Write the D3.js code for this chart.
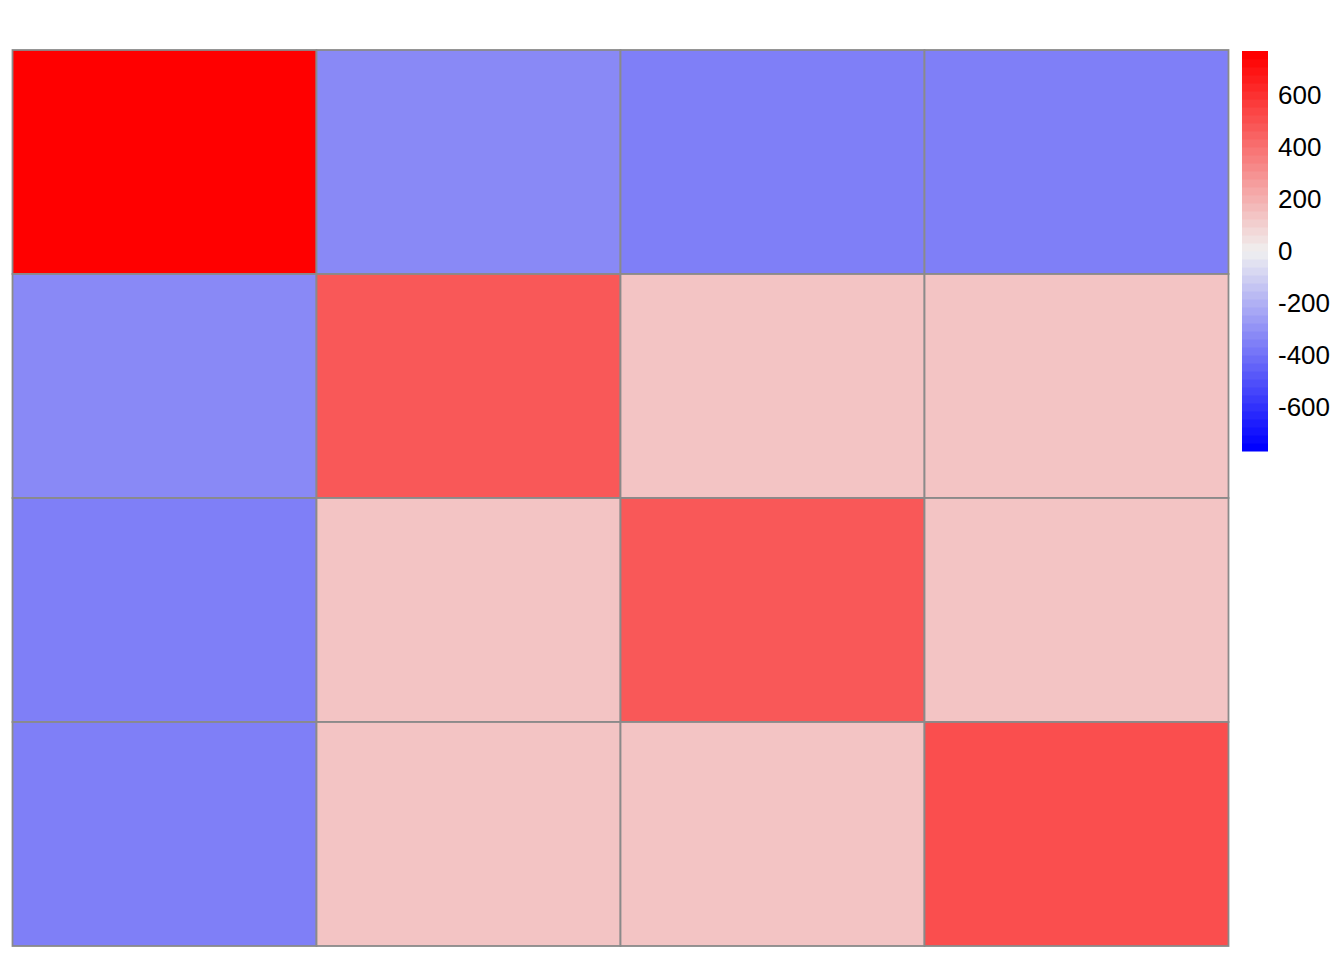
<!DOCTYPE html>
<html>
<head>
<meta charset="utf-8">
<script src="https://cdn.jsdelivr.net/npm/d3@7"></script>
<style>
  body { margin: 0; background: #fff; }
  svg { display: block; }
</style>
</head>
<body>
<svg id="chart" width="1344" height="960"></svg>
<script>
// ---- data ----
const rows = ["r1", "r2", "r3", "r4"];
const cols = ["c1", "c2", "c3", "c4"];
const row1 = [770, -315, -360, -360];
const row2 = [-315, 480, 150, 150];
const row3 = [-360, 150, 480, 150];
const row4 = [-360, 150, 150, 505];
const legendTicks = [-600, -400, -200, 0, 200, 400, 600];
const legendLimit = 770;
const nColors = 50;

const matrix = [row1, row2, row3, row4];
const cells = [];
matrix.forEach((r, i) => r.forEach((v, j) => cells.push({ row: rows[i], col: cols[j], value: v })));

// ---- colours: blue -> light grey -> red, 50 steps ----
const ramp = t => t < 0.5
  ? d3.interpolateRgb("#0000FF", "#F0F0F0")(t / 0.5)
  : d3.interpolateRgb("#F0F0F0", "#FF0000")((t - 0.5) / 0.5);
const palette = d3.range(nColors).map(i => ramp(i / (nColors - 1)));
const color = d3.scaleQuantize().domain([-legendLimit, legendLimit]).range(palette);

const svg = d3.select("#chart");

// ---- heatmap ----
const x = d3.scaleBand().domain(cols).range([12.5, 1228.5]);
const y = d3.scaleBand().domain(rows).range([50, 946]);

svg.append("g").selectAll("rect").data(cells).join("rect")
  .attr("x", d => x(d.col))
  .attr("y", d => y(d.row))
  .attr("width", x.bandwidth())
  .attr("height", y.bandwidth())
  .attr("fill", d => color(d.value))
  .attr("stroke", "#8a8a8a")
  .attr("stroke-width", 1.8);

// ---- legend ----
const ly = d3.scaleLinear().domain([-legendLimit, legendLimit]).range([451, 51]);
const step = (2 * legendLimit) / nColors;
const lg = svg.append("g");
lg.selectAll("rect").data(palette).join("rect")
  .attr("x", 1242)
  .attr("width", 26)
  .attr("y", (c, i) => ly(-legendLimit + (i + 1) * step))
  .attr("height", (c, i) => ly(-legendLimit + i * step) - ly(-legendLimit + (i + 1) * step) + 0.5)
  .attr("fill", c => c);

const axis = d3.axisRight(ly).tickValues(legendTicks).tickSize(0).tickPadding(10)
  .tickFormat(d3.format("d"));
const ag = svg.append("g").attr("transform", "translate(1268,0)").call(axis);
ag.select(".domain").remove();
ag.selectAll("text")
  .attr("font-family", "Liberation Sans, Arial, sans-serif")
  .attr("font-size", 26)
  .attr("fill", "#000")
  .text(d => d < 0 ? "-" + Math.abs(d) : d);
</script>
</body>
</html>
